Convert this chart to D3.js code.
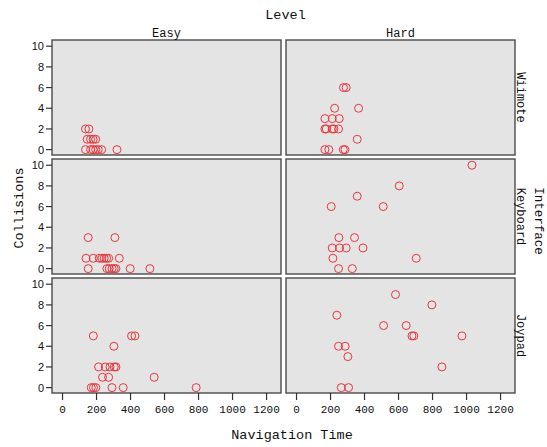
<!DOCTYPE html>
<html>
<head>
<meta charset="utf-8">
<script src="https://cdn.jsdelivr.net/npm/d3@7"></script>
<style>
  body { margin: 0; background: #fff; }
  svg { display: block; }
  .mono { font-family: "Liberation Mono", "Courier New", monospace; fill: #111; }
  .ytick { font-family: "Liberation Sans", Arial, sans-serif; font-size: 11px; fill: #111; }
</style>
</head>
<body>
<svg width="547" height="447"></svg>
<script>
// categories
const levels = ["Easy", "Hard"];
const interfaces = ["Wiimote", "Keyboard", "Joypad"];
const xTicks = [0, 200, 400, 600, 800, 1000, 1200];
const yTicks = [0, 2, 4, 6, 8, 10];

// [navigation time, collisions]
const easyWiimote = [[135, 2], [155, 2], [145, 1], [165, 1], [180, 1], [195, 1],
    [135, 0], [165, 0], [180, 0], [195, 0], [210, 0], [230, 0], [320, 0]];
const hardWiimote = [[276, 6], [292, 6], [224, 4], [365, 4], [167, 3], [210, 3], [251, 3],
    [167, 2], [175, 2], [210, 2], [220, 2], [247, 2], [357, 1],
    [167, 0], [190, 0], [275, 0], [285, 0]];
const easyKeyboard = [[151, 3], [308, 3], [138, 1], [181, 1], [216, 1], [232, 1], [245, 1],
    [259, 1], [271, 1], [334, 1], [151, 0], [261, 0], [275, 0], [291, 0], [304, 0],
    [314, 0], [398, 0], [514, 0]];
const hardKeyboard = [[1032, 10], [604, 8], [357, 7], [204, 6], [510, 6], [249, 3], [341, 3],
    [210, 2], [253, 2], [292, 2], [391, 2], [214, 1], [704, 1], [247, 0], [328, 0]];
const easyJoypad = [[181, 5], [406, 5], [426, 5], [302, 4], [212, 2], [251, 2], [279, 2],
    [304, 2], [314, 2], [235, 1], [271, 1], [539, 1], [169, 0], [182, 0], [196, 0],
    [291, 0], [357, 0], [786, 0]];
const hardJoypad = [[582, 9], [796, 8], [237, 7], [512, 6], [645, 6], [679, 5], [690, 5],
    [973, 5], [247, 4], [286, 4], [302, 3], [855, 2], [263, 0], [306, 0]];

const panels = [
    [easyWiimote, hardWiimote],
    [easyKeyboard, hardKeyboard],
    [easyJoypad, hardJoypad]
];

const svg = d3.select("svg");
const colX = [52, 286], colW = 229;
const rowY = [40, 159, 278], rowH = 115;
const red = "#e8363c";

const x = d3.scaleLinear().domain([-62, 1285]).range([0, colW]);
const y = d3.scaleLinear().domain([-0.52, 10.6]).range([rowH, 0]);

panels.forEach((row, r) => {
    row.forEach((pts, c) => {
        const g = svg.append("g").attr("transform", `translate(${colX[c]},${rowY[r]})`);
        g.append("rect")
            .attr("width", colW).attr("height", rowH)
            .attr("fill", "#e4e4e4")
            .attr("stroke", "#4a4a4a").attr("stroke-width", 1.4);
        g.selectAll("circle").data(pts).enter().append("circle")
            .attr("cx", d => x(d[0]))
            .attr("cy", d => y(d[1]))
            .attr("r", 4)
            .attr("fill", "none")
            .attr("stroke", red)
            .attr("stroke-width", 1);

        // y axis on the left column
        if (c === 0) {
            const ya = g.append("g");
            yTicks.forEach(t => {
                ya.append("line").attr("x1", -6).attr("x2", 0)
                    .attr("y1", y(t)).attr("y2", y(t))
                    .attr("stroke", "#333").attr("stroke-width", 1.2);
                ya.append("text").attr("class", "ytick")
                    .attr("x", -8).attr("y", y(t)).attr("dy", "0.36em")
                    .attr("text-anchor", "end").text(t);
            });
        }
        // x axis on the bottom row
        if (r === 2) {
            const xa = g.append("g");
            xTicks.forEach(t => {
                xa.append("line").attr("x1", x(t)).attr("x2", x(t))
                    .attr("y1", rowH).attr("y2", rowH + 7)
                    .attr("stroke", "#333").attr("stroke-width", 1.2);
                xa.append("text").attr("class", "mono")
                    .attr("x", x(t)).attr("y", rowH + 20)
                    .attr("text-anchor", "middle")
                    .style("font-size", "11px").text(t);
            });
        }
    });
});

// column strips
levels.forEach((lv, c) => {
    svg.append("text").attr("class", "mono")
        .attr("x", colX[c] + colW / 2).attr("y", 37)
        .attr("text-anchor", "middle").style("font-size", "12px").text(lv);
});
svg.append("text").attr("class", "mono")
    .attr("x", 285.5).attr("y", 19)
    .attr("text-anchor", "middle").style("font-size", "13.5px").text("Level");

// row strips
interfaces.forEach((it, r) => {
    svg.append("text").attr("class", "mono")
        .attr("transform", `translate(521,${rowY[r] + rowH / 2}) rotate(90)`)
        .attr("text-anchor", "middle").attr("dy", "0.35em")
        .style("font-size", "12px").text(it);
});
svg.append("text").attr("class", "mono")
    .attr("transform", `translate(539,221) rotate(90)`)
    .attr("text-anchor", "middle").attr("dy", "0.35em")
    .style("font-size", "12.5px").text("Interface");

// axis titles
svg.append("text").attr("class", "mono")
    .attr("transform", `translate(18,208) rotate(-90)`)
    .attr("text-anchor", "middle").attr("dy", "0.35em")
    .style("font-size", "13.5px").text("Collisions");
svg.append("text").attr("class", "mono")
    .attr("x", 292).attr("y", 439)
    .attr("text-anchor", "middle").style("font-size", "13.5px").text("Navigation Time");
</script>
</body>
</html>
